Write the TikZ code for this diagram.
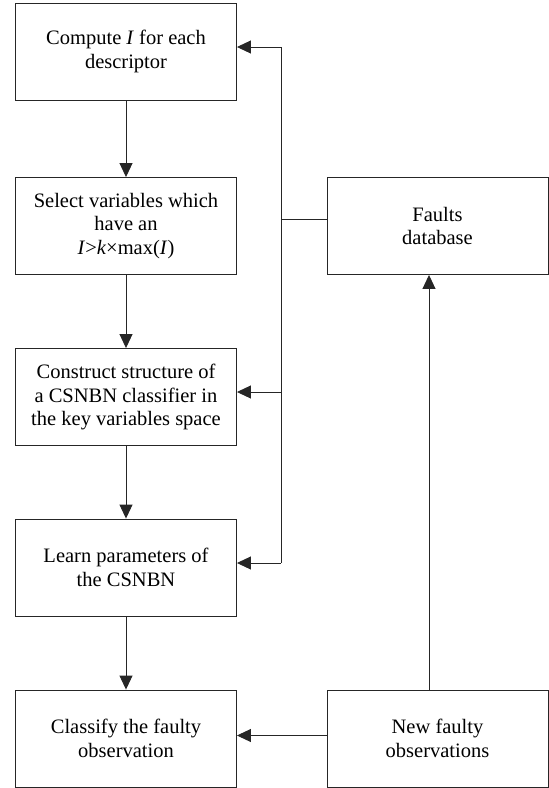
\documentclass[tikz,border=0pt]{standalone}
\usepackage{fontspec}
\setmainfont{Liberation Serif}
\newfontfamily\boxfont{Liberation Serif}
\usetikzlibrary{arrows.meta}

\begin{document}
\begin{tikzpicture}[x=1pt,y=-1pt,
  stepbox/.style={draw=black!85, line width=0.9pt, minimum width=221pt, minimum height=97pt,
    inner sep=0pt, align=center, font=\boxfont\fontsize{20.5}{23.5}\selectfont},
  flow/.style={draw=black!85, line width=0.9pt, -{Triangle[length=14pt,width=13pt]}},
  link/.style={draw=black!85, line width=0.9pt}]

\useasboundingbox (0,0) rectangle (549,788);

% left column
\node[stepbox] (compute) at (126,51.5) {Compute \textit{I} for each\\descriptor};
\node[stepbox] (select) at (126,226) {Select variables which\\have an\\\textit{I}>\textit{k}×max(\textit{I})};
\node[stepbox] (construct) at (126,397) {Construct structure of\\a CSNBN classifier in\\the key variables space};
\node[stepbox] (learn) at (126,567.5) {Learn parameters of\\the CSNBN};
\node[stepbox] (classify) at (126,738.5) {Classify the faulty\\observation};

% right column
\node[stepbox] (faults) at (437.5,226) {Faults\\database};
\node[stepbox] (new) at (437.5,738.5) {New faulty\\observations};

\draw[flow] (compute) -- (select);
\draw[flow] (select) -- (construct);
\draw[flow] (construct) -- (learn);
\draw[flow] (learn) -- (classify);

% feedback bus
\coordinate (bustop) at (281,47);
\coordinate (busmid) at (281,219);
\coordinate (busc) at (281,392);
\coordinate (buslow) at (281,563);
\draw[link] (bustop) -- (buslow);
\draw[link] (faults.west |- busmid) -- (busmid);
\draw[flow] (bustop) -- (compute.east |- bustop);
\draw[flow] (busc) -- (construct.east |- busc);
\draw[flow] (buslow) -- (learn.east |- buslow);

\draw[flow] ([xshift=-8.5pt]new.north) -- ([xshift=-8.5pt]faults.south);
\draw[flow] ([yshift=3pt]new.west) -- ([yshift=3pt]classify.east);

\end{tikzpicture}
\end{document}
